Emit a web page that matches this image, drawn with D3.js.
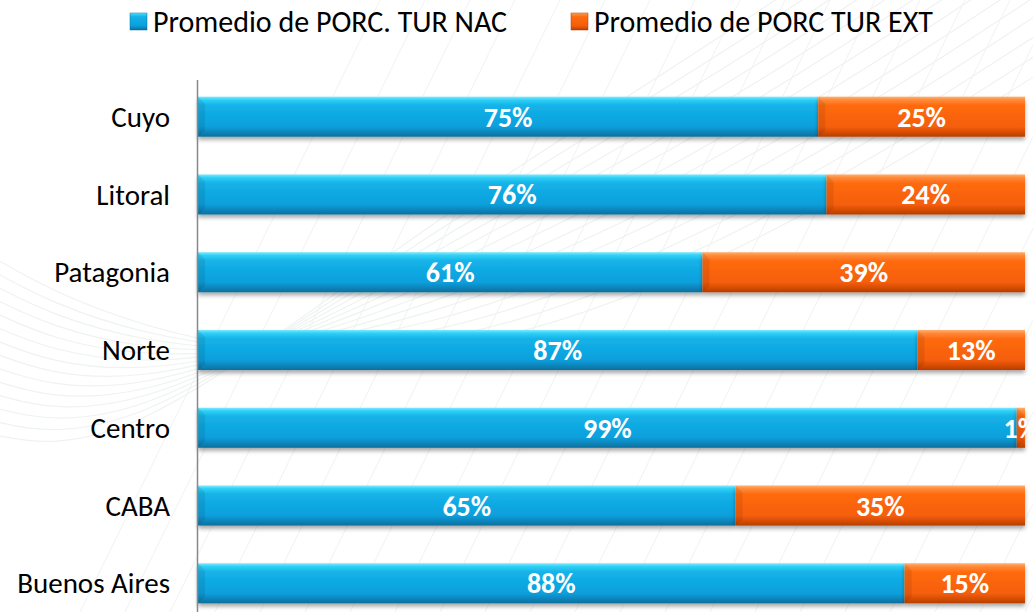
<html>
<head>
<script src="https://d3js.org/d3.v7.min.js"></script>
<style>
body { margin: 0; background: #fff; font-family: Calibri, Lato, sans-serif; }
</style>
</head>
<body>
<div id="chart"></div>
<script>
// data
var regions = ["Cuyo", "Litoral", "Patagonia", "Norte", "Centro", "CABA", "Buenos Aires"];
var nac = [75, 76, 61, 87, 99, 65, 88];
var ext = [25, 24, 39, 13, 1, 35, 15];
var seriesNames = ["Promedio de PORC. TUR NAC", "Promedio de PORC TUR EXT"];

var width = 1033, height = 612;
var svg = d3.select("#chart").append("svg").attr("width", width).attr("height", height);

var defs = svg.append("defs");
function grad(id, stops) {
  var g = defs.append("linearGradient").attr("id", id)
    .attr("x1", 0).attr("y1", 0).attr("x2", 0).attr("y2", 1);
  stops.forEach(s => g.append("stop").attr("offset", s[0]).attr("stop-color", s[1]));
}
grad("gBlue", [[0, "#7fe9ff"], [0.08, "#2fd0f6"], [0.22, "#14b2e8"], [0.75, "#0a9fdc"], [0.88, "#0a86bd"], [1, "#0a6f9c"]]);
grad("gOrange", [[0, "#ffb070"], [0.08, "#ff8a3a"], [0.22, "#ff6a10"], [0.75, "#f55e08"], [0.88, "#d94e05"], [1, "#b23e04"]]);
var sh = defs.append("filter").attr("id", "shadow").attr("x", "-5%").attr("y", "-20%").attr("width", "110%").attr("height", "160%");
sh.append("feGaussianBlur").attr("in", "SourceAlpha").attr("stdDeviation", 2).attr("result", "b");
sh.append("feOffset").attr("in", "b").attr("dx", 0).attr("dy", 3).attr("result", "o");
sh.append("feComponentTransfer").attr("in", "o").attr("result", "o2")
  .append("feFuncA").attr("type", "linear").attr("slope", 0.35);
var mg = sh.append("feMerge");
mg.append("feMergeNode").attr("in", "o2");
mg.append("feMergeNode").attr("in", "SourceGraphic");

// faint background swooshes
var bg = svg.append("g").attr("fill", "none").attr("stroke", "#e3eae8").attr("stroke-width", 1.2).attr("opacity", 0.6);
var swoosh = d3.line().curve(d3.curveBasis);
for (var k = 0; k < 14; k++) {
  bg.append("path").attr("d", swoosh([[-20, 250 + k * 14], [120, 330 + k * 10], [420, 380 - k * 12], [760, 250 - k * 18], [1060, 60 - k * 20]]));
}
var bg2 = svg.append("g").attr("stroke", "#f0f2f1").attr("stroke-width", 1);
for (var k = 0; k < 30; k++) {
  bg2.append("line").attr("x1", 80 + k * 45).attr("y1", 612).attr("x2", 380 + k * 45).attr("y2", 0);
}

var x0 = 198, x1 = 1025;
var x = d3.scaleLinear().domain([0, 1]).range([x0, x1]);
var y = d3.scaleBand().domain(regions).range([78, 622]).paddingInner(0.485).paddingOuter(0.24);

var rows = regions.map((r, i) => ({ region: r, nac: nac[i], ext: ext[i] }));
var stack = d3.stack().keys(["nac", "ext"]).offset(d3.stackOffsetExpand);
var layers = stack(rows);
var fills = ["url(#gBlue)", "url(#gOrange)"];

var gl = svg.selectAll(".layer").data(layers).enter().append("g")
  .attr("class", "layer").attr("fill", (d, i) => fills[i]).attr("filter", "url(#shadow)");
gl.selectAll("rect").data(d => d).enter().append("rect")
  .attr("x", d => x(d[0]))
  .attr("y", d => y(d.data.region))
  .attr("width", d => x(d[1]) - x(d[0]))
  .attr("height", y.bandwidth());

// left bevel highlight
layers.forEach(function (layer) {
  svg.append("g").selectAll("path").data(layer).enter().append("path")
    .attr("d", function (d) {
      var xa = x(d[0]), ya = y(d.data.region), h = y.bandwidth();
      return "M" + xa + "," + ya + "L" + (xa + 7) + "," + (ya + 7) + "L" + (xa + 7) + "," + (ya + h - 6) + "L" + xa + "," + (ya + h) + "Z";
    })
    .attr("fill", "#000").attr("opacity", 0.08);
});

// value labels
layers.forEach(function (layer, li) {
  svg.append("g").selectAll("text").data(layer).enter().append("text")
    .attr("x", d => (x(d[0]) + x(d[1])) / 2)
    .attr("y", d => y(d.data.region) + y.bandwidth() / 2 + 10)
    .attr("text-anchor", "middle")
    .attr("fill", "#fff")
    .style("font-weight", "bold")
    .style("font-size", "28px")
    .text(d => d.data[li == 0 ? "nac" : "ext"] + "%");
});

// axis
var yAxis = d3.axisLeft(y).tickSize(0).tickPadding(28);
var ax = svg.append("g").attr("transform", "translate(" + x0 + ",0)").call(yAxis);
ax.select(".domain").remove();
ax.selectAll("text").style("font-size", "29px").style("font-family", "Calibri, Lato, sans-serif").attr("fill", "#000").attr("dy", "0.35em");
svg.append("line").attr("x1", x0 - 0.5).attr("x2", x0 - 0.5).attr("y1", 80).attr("y2", 612)
  .attr("stroke", "#888").attr("stroke-width", 1.5);

// legend
var legX = [130, 571];
var leg = svg.selectAll(".leg").data(seriesNames).enter().append("g")
  .attr("transform", (d, i) => "translate(" + legX[i] + ",13)");
leg.append("rect").attr("width", 17).attr("height", 17).attr("fill", (d, i) => fills[i])
  .attr("stroke", (d, i) => i == 0 ? "#0a6f9c" : "#b23e04").attr("stroke-width", 0.5);
leg.append("text").attr("x", 23).attr("y", 19).style("font-size", "30px").attr("fill", "#000").text(d => d);
</script>
</body>
</html>
